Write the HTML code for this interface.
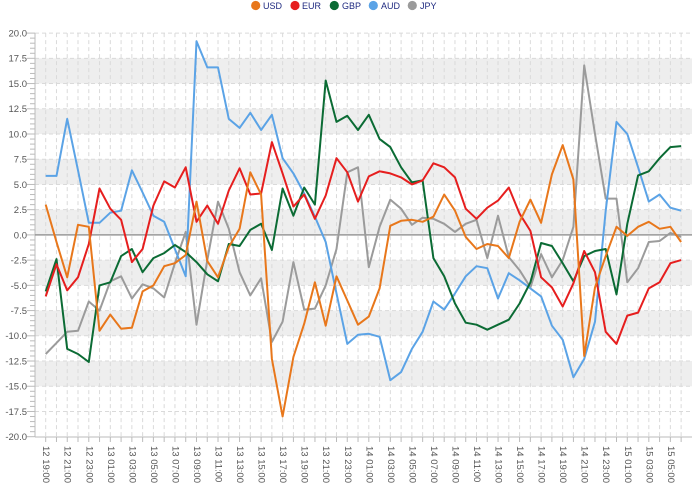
<!DOCTYPE html>
<html><head><meta charset="utf-8"><style>
html,body{margin:0;padding:0;background:#fff;}
svg{display:block;font-family:"Liberation Sans",sans-serif;}
</style></head><body>
<svg id="c" width="698" height="488" viewBox="0 0 698 488">
<g id="bands"></g>
<g id="grid"></g>
<g id="series"></g>
<g font-size="9" fill="#1f2a80">
<circle cx="255.7" cy="5.5" r="4.6" fill="#e8771b"/><text x="263" y="9">USD</text>
<circle cx="295" cy="5.5" r="4.6" fill="#e61e1e"/><text x="302" y="9">EUR</text>
<circle cx="334.3" cy="5.5" r="4.6" fill="#0b6b34"/><text x="342" y="9">GBP</text>
<circle cx="373.3" cy="5.5" r="4.6" fill="#5ba3e6"/><text x="381" y="9">AUD</text>
<circle cx="412.3" cy="5.5" r="4.6" fill="#9b9b9b"/><text x="420" y="9">JPY</text>
</g>
<g font-size="9.5" fill="#555" text-anchor="end">
<text x="27" y="36.5">20.0</text><text x="27" y="61.7">17.5</text><text x="27" y="87">15.0</text><text x="27" y="112.2">12.5</text>
<text x="27" y="137.4">10.0</text><text x="27" y="162.6">7.5</text><text x="27" y="187.9">5.0</text><text x="27" y="213.1">2.5</text>
<text x="27" y="238.3">0.0</text><text x="27" y="263.5">-2.5</text><text x="27" y="288.8">-5.0</text><text x="27" y="314">-7.5</text>
<text x="27" y="339.2">-10.0</text><text x="27" y="364.4">-12.5</text><text x="27" y="389.6">-15.0</text><text x="27" y="414.9">-17.5</text><text x="27" y="440.1">-20.0</text>
</g>
<g font-size="9.5" fill="#555" dominant-baseline="central">
<text transform="translate(45.7,446) rotate(90)">12 19:00</text>
<text transform="translate(67.2,446) rotate(90)">12 21:00</text>
<text transform="translate(88.8,446) rotate(90)">12 23:00</text>
<text transform="translate(110.3,446) rotate(90)">13 01:00</text>
<text transform="translate(131.9,446) rotate(90)">13 03:00</text>
<text transform="translate(153.4,446) rotate(90)">13 05:00</text>
<text transform="translate(174.9,446) rotate(90)">13 07:00</text>
<text transform="translate(196.5,446) rotate(90)">13 09:00</text>
<text transform="translate(218,446) rotate(90)">13 11:00</text>
<text transform="translate(239.6,446) rotate(90)">13 13:00</text>
<text transform="translate(261.1,446) rotate(90)">13 15:00</text>
<text transform="translate(282.6,446) rotate(90)">13 17:00</text>
<text transform="translate(304.2,446) rotate(90)">13 19:00</text>
<text transform="translate(325.7,446) rotate(90)">13 21:00</text>
<text transform="translate(347.3,446) rotate(90)">13 23:00</text>
<text transform="translate(368.8,446) rotate(90)">14 01:00</text>
<text transform="translate(390.3,446) rotate(90)">14 03:00</text>
<text transform="translate(411.9,446) rotate(90)">14 05:00</text>
<text transform="translate(433.4,446) rotate(90)">14 07:00</text>
<text transform="translate(455,446) rotate(90)">14 09:00</text>
<text transform="translate(476.5,446) rotate(90)">14 11:00</text>
<text transform="translate(498,446) rotate(90)">14 13:00</text>
<text transform="translate(519.6,446) rotate(90)">14 15:00</text>
<text transform="translate(541.1,446) rotate(90)">14 17:00</text>
<text transform="translate(562.7,446) rotate(90)">14 19:00</text>
<text transform="translate(584.2,446) rotate(90)">14 21:00</text>
<text transform="translate(605.7,446) rotate(90)">14 23:00</text>
<text transform="translate(627.3,446) rotate(90)">15 01:00</text>
<text transform="translate(648.8,446) rotate(90)">15 03:00</text>
<text transform="translate(670.4,446) rotate(90)">15 05:00</text>
</g>
</svg>
<script>
(function(){
var NS="http://www.w3.org/2000/svg";
function el(p,t,a){var e=document.createElementNS(NS,t);for(var k in a)e.setAttribute(k,a[k]);p.appendChild(e);return e;}
function Y(v){return 234.9-10.09*v;}
function X(i){return 45.7+10.77*i;}
var L=35,R=692;
var b=document.getElementById('bands');
[15,10,5,0,-5,-10,-15].forEach(function(v){el(b,'rect',{x:L,y:Y(v+2.5),width:R-L,height:Y(v)-Y(v+2.5),fill:'#eeeeee'});});
var g=document.getElementById('grid');
for(var v=-17.5;v<=20;v+=2.5){if(Math.abs(v)<0.01)continue;el(g,'line',{x1:L,x2:R,y1:Y(v),y2:Y(v),stroke:'#dadada','stroke-dasharray':'4,3','stroke-width':1});}
for(var i=0;i<60;i++){el(g,'line',{x1:X(i),x2:X(i),y1:Y(20),y2:Y(-20),stroke:'#dadada','stroke-dasharray':'4,3','stroke-width':1});
el(g,'line',{x1:X(i),x2:X(i),y1:437,y2:442,stroke:'#bbb','stroke-width':1});}
for(var v=-20;v<=20.01;v+=0.5){var major=Math.abs(v/2.5-Math.round(v/2.5))<0.01;el(g,'line',{x1:major?27:30,x2:L,y1:Y(v),y2:Y(v),stroke:'#bbb','stroke-width':1});}
el(g,'line',{x1:L,x2:L,y1:Y(20),y2:Y(-20),stroke:'#bbb','stroke-width':1});
el(g,'line',{x1:L,x2:R,y1:437,y2:437,stroke:'#bbb','stroke-width':1});
el(g,'line',{x1:L,x2:R,y1:Y(0),y2:Y(0),stroke:'#999','stroke-width':1.5});
var D={
JPY:{c:'#9b9b9b',d:[-11.8,-10.7,-9.6,-9.5,-6.6,-7.5,-4.6,-4.1,-6.3,-4.9,-5.3,-6.2,-2.8,0.3,-8.9,-2.5,3.3,0.6,-3.7,-6.0,-4.3,-10.6,-8.6,-2.7,-7.4,-7.3,-5.0,-1.4,6.2,6.7,-3.2,0.8,3.5,2.6,1.0,1.7,1.6,1.1,0.3,1.1,1.5,-2.3,1.9,-2.2,-3.5,-5.2,-1.9,-4.2,-2.5,0.8,16.8,10.0,3.6,3.6,-4.7,-3.3,-0.7,-0.6,0.2,-0.2]},
AUD:{c:'#5ba3e6',d:[5.85,5.85,11.5,6.4,1.2,1.2,2.2,2.4,6.4,4.2,1.9,1.3,-1.4,-4.1,19.2,16.6,16.6,11.5,10.6,12.1,10.4,11.9,7.6,6.1,4.1,1.8,-0.7,-5.8,-10.8,-9.9,-9.8,-10.1,-14.4,-13.6,-11.3,-9.6,-6.6,-7.4,-5.8,-4.1,-3.1,-3.3,-6.3,-3.8,-4.5,-5.3,-6.1,-9.0,-10.4,-14.1,-12.3,-8.6,2.4,11.2,10.0,6.7,3.3,4.0,2.7,2.4]},
GBP:{c:'#0b6b34',d:[-5.6,-2.4,-11.3,-11.8,-12.6,-5.0,-4.7,-2.1,-1.4,-3.7,-2.3,-1.8,-1.0,-1.7,-2.7,-3.9,-4.6,-0.9,-1.1,0.5,1.1,-1.5,4.6,1.9,4.7,3.0,15.3,11.2,11.8,10.4,11.9,9.5,8.7,6.7,5.2,5.4,-2.3,-4.1,-6.8,-8.7,-8.9,-9.4,-8.9,-8.4,-6.8,-4.7,-0.8,-1.1,-2.8,-4.6,-2.1,-1.6,-1.4,-5.9,1.1,5.9,6.3,7.6,8.7,8.8]},
EUR:{c:'#e61e1e',d:[-6.1,-2.9,-5.5,-4.2,-0.9,4.6,2.6,1.5,-2.7,-1.4,2.9,5.3,4.7,6.7,1.3,2.9,1.1,4.4,6.6,4.0,4.1,9.2,6.1,2.8,4.0,1.6,3.9,7.6,6.2,3.3,5.8,6.3,6.1,5.7,5.0,5.4,7.1,6.7,5.7,2.6,1.6,2.7,3.4,4.7,2.1,0.4,-4.2,-5.2,-7.1,-4.8,-1.6,-3.7,-9.6,-10.8,-8.0,-7.7,-5.3,-4.7,-2.8,-2.5]},
USD:{c:'#e8771b',d:[3.0,-0.7,-4.2,1.0,0.8,-9.5,-7.9,-9.3,-9.2,-5.6,-5.0,-3.1,-2.8,-2.0,3.3,-2.6,-4.2,-1.2,0.6,6.2,4.0,-12.3,-18.0,-12.1,-8.8,-4.7,-9.0,-4.1,-6.5,-8.9,-8.1,-5.3,0.9,1.4,1.5,1.3,1.8,4.0,2.4,-0.2,-1.4,-0.9,-1.1,-2.3,1.3,3.5,1.2,6.0,8.9,5.5,-12.0,-5.2,-2.1,0.8,-0.1,0.8,1.3,0.6,0.8,-0.7]}
};
var s=document.getElementById('series');
['JPY','AUD','GBP','EUR','USD'].forEach(function(k){
var pts=D[k].d.map(function(v,i){return X(i).toFixed(1)+','+Y(v).toFixed(1);}).join(' ');
el(s,'polyline',{points:pts,fill:'none',stroke:D[k].c,'stroke-width':2,'stroke-linejoin':'round'});
});
})();
</script>
</body></html>
